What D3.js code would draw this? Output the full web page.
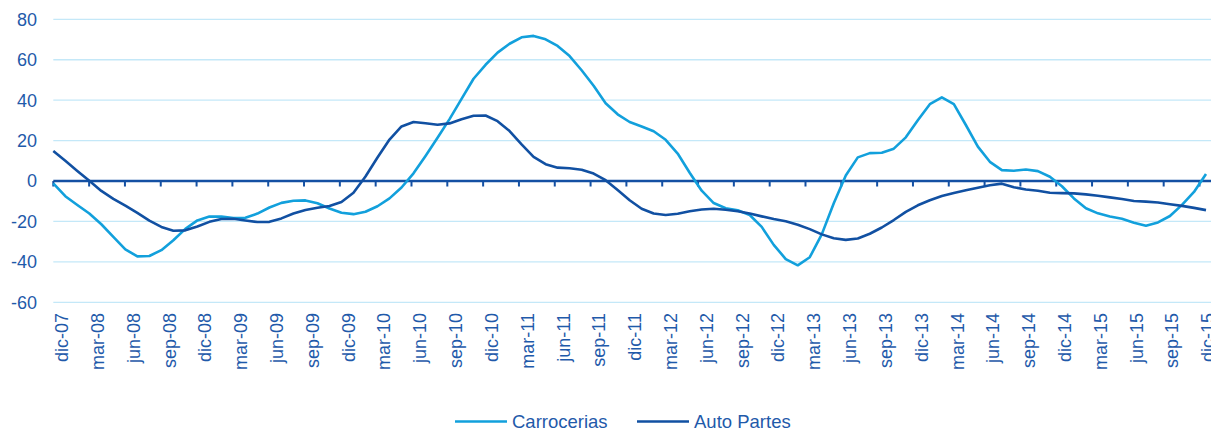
<!DOCTYPE html>
<meta charset="utf-8">
<style>
body { margin: 0; background: #fff; }
svg { display: block; }
text { font-family: "Liberation Sans", Arial, sans-serif; fill: #1f5aaa; }
.grid line { stroke: #c4e8f8; stroke-width: 1.3px; }
.zero { stroke: #1450a3; stroke-width: 2.6px; }
.tick-mark { stroke: #1450a3; stroke-width: 2px; }
.line { fill: none; stroke-width: 2.6px; stroke-linejoin: round; }
</style>
<svg width="1211" height="430"></svg>
<script src="https://d3js.org/d3.v7.min.js"></script>
<script>

// monthly series dic-07 .. dic-15 (97 months)
var carrocerias = [
  -1.2, -7.5, -11.9, -16.1, -21.4, -27.6, -33.8, -37.3, -37.1, -34.2, -29.3, -23.7,
  -19.5, -17.6, -17.6, -18.3, -18.2, -16.1, -13.1, -10.8, -9.8, -9.6, -11, -13.6,
  -15.7, -16.4, -15.2, -12.5, -8.6, -3.2, 3.8, 12.4, 21.4, 30.6, 40.6, 50.6,
  57.5, 63.5, 67.9, 71.1, 71.8, 70.1, 66.8, 61.8, 54.8, 47.1, 38.5, 33,
  29.2, 27, 24.6, 20.4, 13.6, 4.1, -4.8, -10.9, -13.5, -14.5, -16.8, -22.7,
  -31.6, -38.6, -41.7, -37.7, -26.4, -11, 2.7, 11.7, 13.8, 14, 16, 21.6,
  30.1, 38, 41.4, 38, 27.7, 17, 9.5, 5.4, 5.1, 5.7, 4.9, 2.1,
  -2.6, -8.6, -13.5, -16, -17.6, -18.7, -20.6, -22.1, -20.5, -17.3, -11.8, -5.4,
  3.5
];

var autoPartes = [
  14.8, 10, 5, 0.1, -4.9, -8.8, -12.2, -15.8, -19.6, -22.7, -24.6, -24.4,
  -22.5, -20.2, -18.8, -18.7, -19.5, -20.3, -20.2, -18.5, -16.1, -14.3, -13.2, -12.4,
  -10.4, -5.8, 2.2, 11.6, 20.5, 27, 29.2, 28.6, 27.8, 28.5, 30.6, 32.3,
  32.4, 29.6, 24.7, 18.1, 11.9, 8.3, 6.6, 6.3, 5.6, 3.7, 0.4, -4.5,
  -9.5, -13.7, -16.1, -16.8, -16.2, -15, -14.1, -13.7, -14.2, -15, -16.1, -17.5,
  -18.8, -19.9, -21.6, -23.8, -26.4, -28.3, -29.1, -28.4, -26.1, -23, -19.3, -15.3,
  -12, -9.5, -7.4, -5.9, -4.6, -3.3, -2.1, -1.3, -3.1, -4.2, -4.8, -5.8,
  -6, -6.1, -6.6, -7.3, -8.1, -8.9, -9.9, -10.2, -10.6, -11.5, -12.3, -13.3,
  -14.4
];

// one label every 3 months
var tickLabels = [
  "dic-07", "mar-08", "jun-08", "sep-08", "dic-08", "mar-09", "jun-09", "sep-09",
  "dic-09", "mar-10", "jun-10", "sep-10", "dic-10", "mar-11", "jun-11", "sep-11",
  "dic-11", "mar-12", "jun-12", "sep-12", "dic-12", "mar-13", "jun-13", "sep-13",
  "dic-13", "mar-14", "jun-14", "sep-14", "dic-14", "mar-15", "jun-15", "sep-15",
  "dic-15"
];

var yTicks = [-60, -40, -20, 0, 20, 40, 60, 80];

var series = [
  { name: "Carrocerias", values: carrocerias, color: "#12a0dc" },
  { name: "Auto Partes", values: autoPartes, color: "#1150a2" }
];

var svg = d3.select("svg"),
    width = +svg.attr("width");

var x = d3.scaleLinear().domain([0, carrocerias.length - 1]).range([53.3, 1206]);
// the category ticks sit slightly tighter than the points in the source chart
var xTick = d3.scaleLinear().domain([0, tickLabels.length - 1]).range([53.3, 1199.5]);
var y = d3.scaleLinear().domain([-60, 80]).range([302.3, 19.3]);

// gridlines
svg.append("g")
    .attr("class", "grid")
  .selectAll("line")
  .data(yTicks.filter(function(d) { return d !== 0; }))
  .enter().append("line")
    .attr("x1", 53.3)
    .attr("x2", width)
    .attr("y1", function(d) { return y(d); })
    .attr("y2", function(d) { return y(d); });

// y labels
svg.append("g")
  .selectAll("text")
  .data(yTicks)
  .enter().append("text")
    .attr("x", 37)
    .attr("y", function(d) { return y(d); })
    .attr("dy", "0.36em")
    .attr("text-anchor", "end")
    .style("font-size", "18px")
    .text(function(d) { return d; });

// zero axis with ticks
svg.append("line")
    .attr("class", "zero")
    .attr("x1", 53.3)
    .attr("x2", width)
    .attr("y1", y(0))
    .attr("y2", y(0));

svg.append("g")
  .selectAll("line")
  .data(tickLabels)
  .enter().append("line")
    .attr("class", "tick-mark")
    .attr("x1", function(d, i) { return xTick(i); })
    .attr("x2", function(d, i) { return xTick(i); })
    .attr("y1", y(0))
    .attr("y2", y(0) + 5.5);

// lines
var line = d3.line()
    .x(function(d, i) { return x(i); })
    .y(function(d) { return y(d); });

svg.append("g")
  .selectAll("path")
  .data(series)
  .enter().append("path")
    .attr("class", "line")
    .attr("stroke", function(d) { return d.color; })
    .attr("d", function(d) { return line(d.values); });

// x labels, rotated
svg.append("g")
  .selectAll("text")
  .data(tickLabels)
  .enter().append("text")
    .attr("transform", function(d, i) { return "translate(" + xTick(i) + ",313) rotate(-90)"; })
    .attr("y", 14.8)
    .attr("text-anchor", "end")
    .style("font-size", "18px")
    .text(function(d) { return d; });

// legend
var legend = svg.append("g")
  .selectAll("g")
  .data(series)
  .enter().append("g")
    .attr("transform", function(d, i) { return "translate(" + (455 + i * 182) + ",421.5)"; });

legend.append("line")
    .attr("x1", 0)
    .attr("x2", 52)
    .attr("stroke", function(d) { return d.color; })
    .attr("stroke-width", 2.6);

legend.append("text")
    .attr("x", 57)
    .attr("dy", "0.36em")
    .style("font-size", "18.5px")
    .text(function(d) { return d.name; });

</script>
